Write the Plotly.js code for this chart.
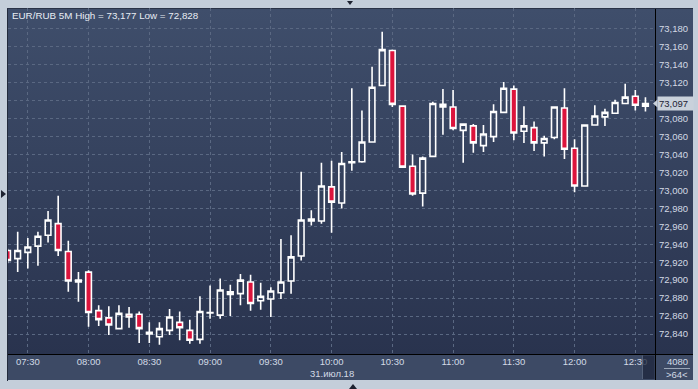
<!DOCTYPE html>
<html>
<head>
<meta charset="utf-8">
<script src="https://cdn.plot.ly/plotly-3.0.1.min.js"></script>
<style>
html,body{margin:0;padding:0;background:#c4ceda;width:698px;height:389px;overflow:hidden;}
#panel{position:absolute;left:8px;top:9px;width:685px;height:345px;background:linear-gradient(#3f4e6b,#29334e);}
#strip{position:absolute;left:8px;top:355px;width:685px;height:25px;background:#3d4a65;}
#lline{position:absolute;left:7px;top:8px;width:1px;height:373px;background:#232b3c;}
#tline{position:absolute;left:7px;top:8px;width:686px;height:1px;background:#2a3347;}
.tri{position:absolute;width:0;height:0;}
#tTop{left:347px;top:1px;border-left:3.5px solid transparent;border-right:3.5px solid transparent;border-top:4px solid #1d2230;}
#tBot{left:349px;top:384px;border-left:4px solid transparent;border-right:4px solid transparent;border-bottom:5px solid #1d2230;}
#tLeft{left:1px;top:190px;border-top:4px solid transparent;border-bottom:4px solid transparent;border-left:5px solid #1d2230;}
#chart{position:absolute;left:0;top:0;width:698px;height:389px;}
</style>
</head>
<body>
<div id="panel"></div>
<div id="strip"></div>
<div id="lline"></div>
<div id="tline"></div>
<div class="tri" id="tTop"></div>
<div class="tri" id="tBot"></div>
<div class="tri" id="tLeft"></div>
<div id="chart"></div>
<script>
const day = '2018-07-31 ';
const times = ['07:20','07:25','07:30','07:35','07:40','07:45','07:50','07:55',
  '08:00','08:05','08:10','08:15','08:20','08:25','08:30','08:35','08:40','08:45','08:50','08:55',
  '09:00','09:05','09:10','09:15','09:20','09:25','09:30','09:35','09:40','09:45','09:50','09:55',
  '10:00','10:05','10:10','10:15','10:20','10:25','10:30','10:35','10:40','10:45','10:50','10:55',
  '11:00','11:05','11:10','11:15','11:20','11:25','11:30','11:35','11:40','11:45','11:50','11:55',
  '12:00','12:05','12:10','12:15','12:20','12:25','12:30','12:35'];
const openV = [72.933,72.924,72.931,72.938,72.950,72.963,72.932,72.900,
  72.909,72.866,72.858,72.846,72.862,72.862,72.842,72.837,72.844,72.853,72.844,72.834,
  72.8635,72.861,72.884,72.885,72.898,72.877,72.879,72.886,72.899,72.927,72.968,72.966,
  73.004,72.986,73.031,73.032,73.054,73.117,73.156,73.094,73.027,72.997,73.038,73.096,
  73.093,73.067,73.072,73.050,73.060,73.087,73.113,73.066,73.070,73.053,73.059,73.092,
  73.047,73.005,73.073,73.082,73.086,73.097,73.105,73.094];
const highV = [72.935,72.954,72.947,72.954,72.977,72.994,72.944,72.909,
  72.911,72.872,72.871,72.872,72.870,72.865,72.853,72.853,72.868,72.865,72.856,72.882,
  72.894,72.902,72.895,72.907,72.906,72.897,72.892,72.946,72.950,73.021,72.978,73.031,
  73.033,73.043,73.114,73.089,73.138,73.177,73.157,73.094,73.040,73.038,73.099,73.113,
  73.112,73.075,73.074,73.073,73.096,73.121,73.117,73.094,73.077,73.061,73.093,73.114,
  73.057,73.073,73.095,73.091,73.101,73.119,73.112,73.104];
const lowV = [72.919,72.909,72.913,72.916,72.942,72.927,72.887,72.876,
  72.848,72.849,72.839,72.846,72.847,72.830,72.830,72.828,72.839,72.833,72.829,72.829,
  72.857,72.857,72.860,72.872,72.866,72.867,72.859,72.879,72.885,72.922,72.961,72.963,
  72.953,72.980,73.022,73.031,73.054,73.117,73.093,73.026,72.994,72.982,73.038,73.062,
  73.067,73.031,73.042,73.043,73.054,73.086,73.056,73.053,73.044,73.038,73.057,73.035,
  72.998,73.005,73.073,73.072,73.086,73.097,73.089,73.088];
const closeV = [72.922,72.933,72.937,72.949,72.967,72.933,72.899,72.898,
  72.864,72.856,72.850,72.863,72.859,72.846,72.840,72.846,72.859,72.847,72.833,72.865,
  72.864,72.889,72.887,72.900,72.874,72.882,72.888,72.898,72.926,72.967,72.966,73.005,
  72.987,73.030,73.032,73.054,73.115,73.157,73.096,73.026,72.996,73.036,73.097,73.093,
  73.069,73.074,73.053,73.063,73.088,73.114,73.064,73.072,73.053,73.058,73.093,73.046,
  73.005,73.073,73.083,73.087,73.098,73.104,73.095,73.097];
const xTickTimes = ['07:30','08:00','08:30','09:00','09:30','10:00','10:30','11:00','11:30','12:00','12:30'];
const yTicks = [72.84,72.86,72.88,72.90,72.92,72.94,72.96,72.98,73.00,73.02,73.04,73.06,73.08,73.10,73.12,73.14,73.16,73.18];
// 73,100 is hidden behind the last-price tag in the reference
const yTickText = ['72,840','72,860','72,880','72,900','72,920','72,940','72,960','72,980','73,000','73,020','73,040','73,060','73,080','','73,120','73,140','73,160','73,180'];
const titleText = 'EUR/RUB 5M High = 73,177 Low = 72,828';
const dateLabel = '31.июл.18';
const lastPrice = 73.097;
const lastPriceText = '73,097';
const barsText = '4080';
const countText = '>64<';

const W = 698, H = 389, L = 8, R = 655, T = 8, B = 354;
const px = v => (v - L) / (R - L);
const py = v => (B - v) / (B - T);

const fontF = 'Liberation Sans, Arial, sans-serif';
const txtCol = '#d3dae5';

const trace = {
  type: 'candlestick',
  x: times.map(t => day + t),
  open: openV, high: highV, low: lowV, close: closeV,
  increasing: {line: {color: '#ffffff', width: 1.6}, fillcolor: 'rgba(0,0,0,0)'},
  decreasing: {line: {color: '#ffffff', width: 1.6}, fillcolor: '#dc143c'},
  whiskerwidth: 0,
  hoverinfo: 'skip'
};

const layout = {
  width: W, height: H,
  margin: {l: L, r: W - R, t: T, b: H - B, pad: 0},
  paper_bgcolor: 'rgba(0,0,0,0)',
  plot_bgcolor: 'rgba(0,0,0,0)',
  separators: ', ',
  showlegend: false,
  boxgap: 0.2,
  xaxis: {
    type: 'date',
    range: [day + '07:20:13', day + '12:39:43'],
    rangeslider: {visible: false},
    tickvals: xTickTimes.map(t => day + t),
    ticktext: xTickTimes,
    showgrid: true, gridcolor: '#5a6882', griddash: '3px,3px', gridwidth: 1,
    zeroline: false, showline: false, ticks: '',
    tickfont: {family: fontF, size: 9.5, color: txtCol},
    fixedrange: true
  },
  yaxis: {
    side: 'right',
    range: [72.8177, 73.2034],
    tickvals: yTicks,
    ticktext: yTickText,
    showgrid: true, gridcolor: '#5a6882', griddash: '3px,3px', gridwidth: 1,
    zeroline: false, showline: false, ticks: '',
    ticklabelstandoff: 3,
    tickfont: {family: fontF, size: 9.5, color: txtCol},
    fixedrange: true
  },
  shapes: [
    {type: 'line', xref: 'paper', yref: 'paper', x0: px(8), x1: px(693), y0: py(354.5), y1: py(354.5), line: {color: '#000000', width: 1}},
    {type: 'line', xref: 'paper', yref: 'paper', x0: px(655.5), x1: px(655.5), y0: py(9), y1: py(380), line: {color: '#000000', width: 1}},
    {type: 'rect', xref: 'paper', yref: 'paper', x0: px(643), x1: px(654.5), y0: py(379), y1: py(355.5), fillcolor: 'rgba(30,38,60,0.75)', line: {width: 0}},
    {type: 'line', xref: 'paper', yref: 'paper', x0: px(642.5), x1: px(642.5), y0: py(379), y1: py(355.5), line: {color: 'rgba(90,102,126,0.8)', width: 1}},
    {type: 'line', xref: 'paper', yref: 'paper', x0: px(664), x1: px(690), y0: py(368.5), y1: py(368.5), line: {color: '#9aa6b8', width: 1}},
    {type: 'path', xref: 'paper', yref: 'y', path: 'M ' + px(653) + ',' + lastPrice + ' L ' + px(657.5) + ',' + (lastPrice + 0.0045) + ' L ' + px(657.5) + ',' + (lastPrice - 0.0045) + ' Z', fillcolor: '#c9d1db', line: {width: 0}}
  ],
  annotations: [
    {xref: 'paper', yref: 'paper', x: px(10), y: py(15.5), xanchor: 'left', yanchor: 'middle', showarrow: false,
     text: titleText, font: {family: fontF, size: 9.8, color: '#e8edf4'}},
    {xref: 'x', yref: 'paper', x: day + '10:00', y: py(373.5), xanchor: 'center', yanchor: 'middle', showarrow: false,
     text: dateLabel, font: {family: fontF, size: 9.5, color: txtCol}},
    {xref: 'paper', yref: 'y', x: px(657), y: lastPrice, xanchor: 'left', yanchor: 'middle', showarrow: false,
     text: lastPriceText, bgcolor: '#c9d1db', width: 33, height: 11, borderpad: 1, align: 'left',
     font: {family: fontF, size: 9.5, color: '#1c2333'}},
    {xref: 'paper', yref: 'paper', x: px(677), y: py(361.8), xanchor: 'center', yanchor: 'middle', showarrow: false,
     text: barsText, font: {family: fontF, size: 9.5, color: txtCol}},
    {xref: 'paper', yref: 'paper', x: px(677), y: py(374.5), xanchor: 'center', yanchor: 'middle', showarrow: false,
     text: countText.replace(/</g,'&lt;').replace(/>/g,'&gt;'), font: {family: fontF, size: 9.5, color: txtCol}}
  ]
};

Plotly.newPlot('chart', [trace], layout, {displayModeBar: false, staticPlot: true});
</script>
</body>
</html>
